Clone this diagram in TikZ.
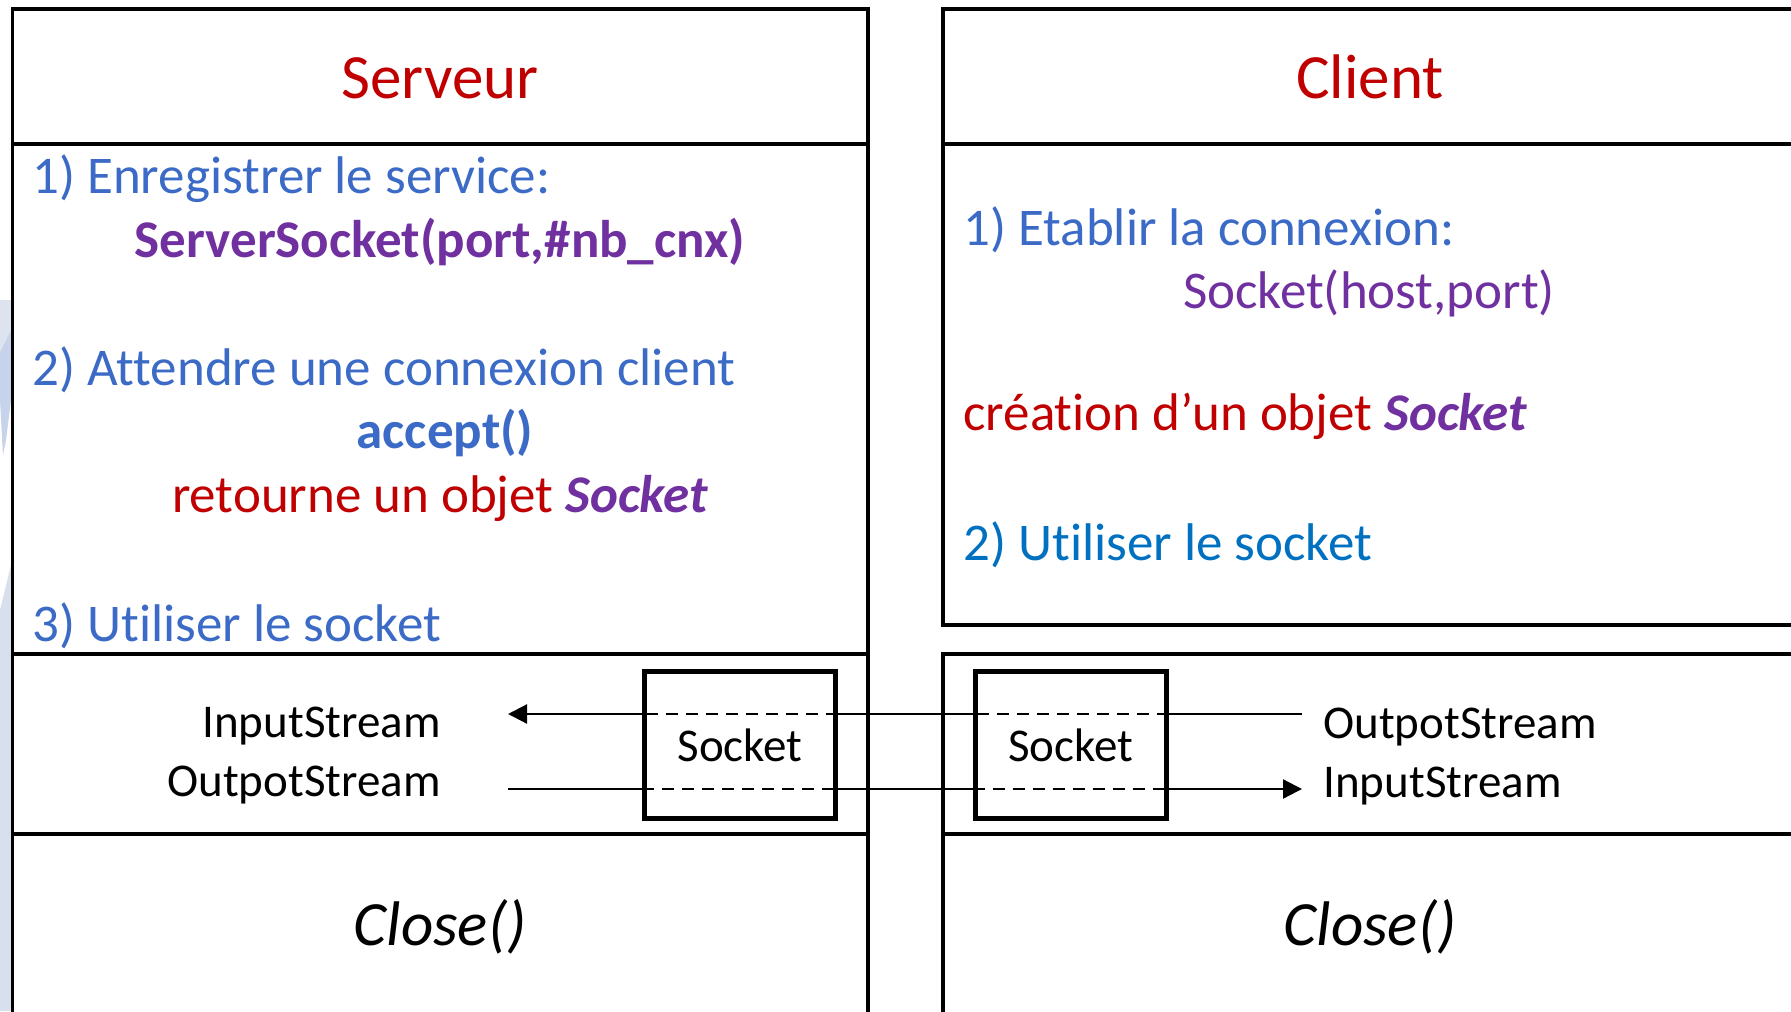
\documentclass[tikz,border=0pt]{standalone}
\usepackage{fontspec}
\setmainfont[Ligatures=NoCommon]{Carlito}
\usetikzlibrary{arrows.meta}
\definecolor{tblue}{HTML}{3B6BC6}
\definecolor{tred}{HTML}{C00000}
\definecolor{tpurple}{HTML}{7030A0}
\definecolor{tbluetwo}{HTML}{0070C0}
\definecolor{paleA}{HTML}{DDE4F0}
\definecolor{paleB}{HTML}{C6D3EA}
\definecolor{paleC}{HTML}{D8E0EE}
\begin{document}
\begin{tikzpicture}[x=0.5pt,y=-0.5pt,
  panel/.style={line width=1.7pt},
  sockbox/.style={draw, line width=2.5pt, minimum width=95.5pt, minimum height=73.5pt, inner sep=0pt,
     font=\fontsize{23.5}{28}\selectfont},
  title/.style={font=\fontsize{31.5}{38}\selectfont, text=tred, inner sep=0pt, anchor=base},
  body/.style={font=\fontsize{26.5}{32}\selectfont, inner sep=0pt, anchor=base west},
  bodyc/.style={font=\fontsize{26.5}{32}\selectfont, inner sep=0pt, anchor=base},
  stream/.style={font=\fontsize{23.5}{28}\selectfont, inner sep=0pt},
  closetxt/.style={font=\fontsize{31.5}{38}\selectfont\itshape, inner sep=0pt, anchor=base},
  conn/.style={line width=1.1pt},
  dashline/.style={line width=1.3pt, dash pattern=on 6pt off 4pt},
  tip/.style={-{Triangle[length=9.5pt,width=9.5pt]}}
]
\useasboundingbox (0,0) rectangle (1791,1011);
\fill[white] (0,0) rectangle (1791,1011);
% faint background slivers at the left edge
\fill[paleA] (0,300) -- (11,300) -- (11,330) -- (0,352) -- cycle;
\fill[paleB] (0,352) -- (11,330) -- (11,400) -- (6,440) -- (3,455) -- (0,400) -- cycle;
\fill[paleC] (11,565) -- (11,1011) -- (0,1011) -- (0,610) -- cycle;

% Serveur panel
\draw[panel] (12.5,1015) -- (12.5,9) -- (868,9) -- (868,1015);
\draw[panel] (12.5,144) -- (868,144);
\draw[panel] (12.5,654) -- (868,654);
\draw[panel] (12.5,834) -- (868,834);

% Client panel
\draw[panel] (1795,9) -- (943,9) -- (943,625) -- (1795,625);
\draw[panel] (943,144) -- (1795,144);
\draw[panel] (1795,654) -- (943,654) -- (943,1015);
\draw[panel] (943,834) -- (1795,834);

% titles
\node[title] (tserv) at (440,98) {Serveur};
\node[title] (tcli) at (1370,98) {Client};

% server texts
\node[body, text=tblue] (s1) at (32,193) {1) Enregistrer le service:};
\node[bodyc, text=tpurple, font=\fontsize{26.5}{32}\selectfont\bfseries] (s1b) at (440,257) {ServerSocket(port,\#nb\_cnx)};
\node[body, text=tblue] (s2) at (32,385) {2) Attendre une connexion client};
\node[bodyc, text=tblue, font=\fontsize{26.5}{32}\selectfont\bfseries] (s2b) at (445,448) {accept()};
\node[bodyc, text=tred] (s2c) at (440,512) {retourne un objet {\bfseries\itshape\color{tpurple}Socket}};
\node[body, text=tblue] (s3) at (32,641) {3) Utiliser le socket};

% client texts
\node[body, text=tblue] (c1) at (963,245) {1) Etablir la connexion:};
\node[bodyc, text=tpurple] (c1b) at (1369,308) {Socket(host,port)};
\node[body, text=tred] (c2) at (963,430) {création d’un objet {\bfseries\itshape\color{tpurple}Socket}};
\node[body, text=tbluetwo] (c3) at (963,560) {2) Utiliser le socket};

% stream labels
\node[stream, anchor=base east] (sIn) at (441,737) {InputStream};
\node[stream, anchor=base east] (sOut) at (441,796) {OutpotStream};
\node[stream, anchor=base west] (cOut) at (1323,738) {OutpotStream};
\node[stream, anchor=base west] (cIn) at (1323,797) {InputStream};

% socket boxes
\node[sockbox] (ssock) at (740,745) {Socket};
\node[sockbox] (csock) at (1070.5,745) {Socket};

% connector ends
\coordinate (sInTip) at (508,714);
\coordinate (cOutEnd) at (1302,714);
\coordinate (sOutEnd) at (508,789);
\coordinate (cInTip) at (1302,789);

% upper line: client -> server
\draw[conn] (cOutEnd) -- (csock.east |- cOutEnd);
\draw[dashline] (csock.east |- cOutEnd) -- (csock.west |- cOutEnd);
\draw[conn] (csock.west |- cOutEnd) -- (ssock.east |- cOutEnd);
\draw[dashline] (ssock.east |- cOutEnd) -- (ssock.west |- cOutEnd);
\draw[conn, tip] (ssock.west |- cOutEnd) -- (sInTip);

% lower line: server -> client
\draw[conn] (sOutEnd) -- (ssock.west |- sOutEnd);
\draw[dashline] (ssock.west |- sOutEnd) -- (ssock.east |- sOutEnd);
\draw[conn] (ssock.east |- sOutEnd) -- (csock.west |- sOutEnd);
\draw[dashline] (csock.west |- sOutEnd) -- (csock.east |- sOutEnd);
\draw[conn, tip] (csock.east |- sOutEnd) -- (cInTip);

% close
\node[closetxt] (sclose) at (440,945) {Close()};
\node[closetxt] (cclose) at (1370,945) {Close()};
\end{tikzpicture}
\end{document}
